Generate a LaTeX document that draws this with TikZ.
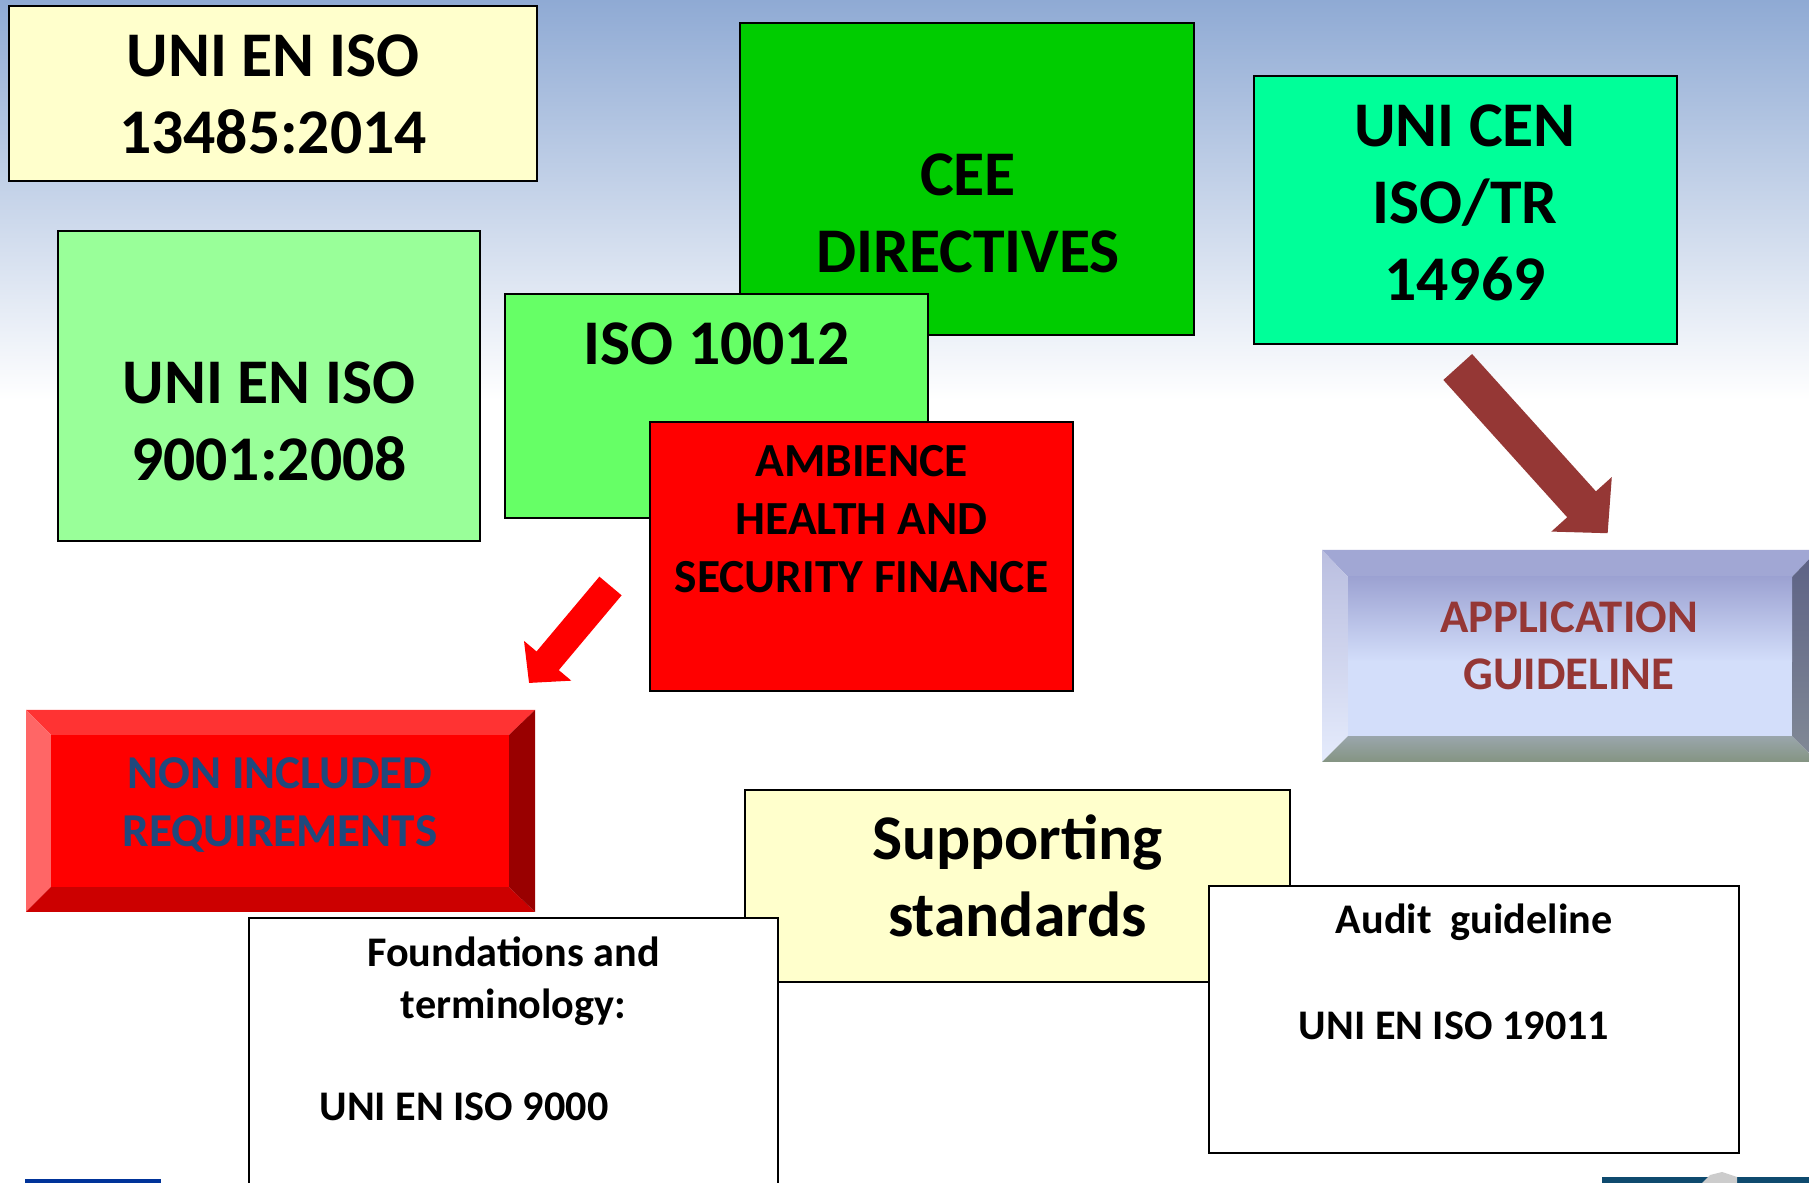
\documentclass[tikz,border=0pt]{standalone}
\usepackage{fontspec}
\setmainfont{Carlito}
\usetikzlibrary{arrows.meta,fit}

\definecolor{bgtop}{RGB}{143,170,212}
\definecolor{paleyellow}{RGB}{255,255,204}
\definecolor{ceegreen}{RGB}{0,204,0}
\definecolor{aquagreen}{RGB}{0,255,153}
\definecolor{palegreen}{RGB}{153,255,153}
\definecolor{lightgreen}{RGB}{102,255,102}
\definecolor{darkbrown}{RGB}{149,55,53}
\definecolor{textblue}{RGB}{31,73,125}
\definecolor{barblue}{RGB}{0,51,153}
\definecolor{barteal}{RGB}{14,74,110}
% bevel faces
\definecolor{redtop}{RGB}{255,51,51}
\definecolor{redleft}{RGB}{255,102,102}
\definecolor{redbottom}{RGB}{204,0,0}
\definecolor{redright}{RGB}{153,0,0}
\definecolor{lilactop}{RGB}{156,162,210}
\definecolor{lilacface}{RGB}{211,222,250}

\begin{document}
\begin{tikzpicture}[x=0.01cm, y=-0.01cm,
    box/.style={draw=black, line width=0.6pt, inner sep=0pt},
    big/.style={font=\fontsize{18.1}{21.9}\selectfont\bfseries, align=center, inner sep=0pt},
    mid/.style={font=\fontsize{13.5}{16.4}\selectfont\bfseries, align=center, inner sep=0pt},
    small/.style={font=\fontsize{12}{14.8}\selectfont\bfseries, align=center, inner sep=0pt},
    redarrow/.style={red, line width=8.25pt, -{Triangle[width=17.1pt, length=8.25pt]}},
    brownarrow/.style={darkbrown, line width=11pt, -{Triangle[width=22.5pt, length=11.1pt]}}]
    \useasboundingbox (0,0) rectangle (1809,1183);

    % Background
    \fill[white] (0,0) rectangle (1809,1183);
    \shade[top color=bgtop, bottom color=white] (0,0) rectangle (1809,400);

    % Standards boxes
    \node[box, fill=paleyellow, fit={(9,6) (537,181)}] (iso13485) {};
    \node[big] (iso13485txt) at (273,94) {UNI EN ISO\\13485:2014};

    \node[box, fill=ceegreen, fit={(740,23) (1194,335)}] (cee) {};
    \node[big] (ceetxt) at (968,213) {CEE\\DIRECTIVES};

    \node[box, fill=aquagreen, fit={(1254,76) (1677,344)}] (tr14969) {};
    \node[big] (tr14969txt) at (1465,203) {UNI CEN\\ISO/TR\\14969};

    \node[box, fill=palegreen, fit={(58,231) (480,541)}] (iso9001) {};
    \node[big] (iso9001txt) at (269,421) {UNI EN ISO\\9001:2008};

    \node[box, fill=lightgreen, fit={(505,294) (928,518)}] (iso10012) {};
    \node[big] (iso10012txt) at (716.5,344) {ISO 10012};

    \node[box, fill=red, fit={(650,422) (1073,691)}] (ambience) {};
    \node[mid] (ambiencetxt) at (861.5,519) {AMBIENCE\\HEALTH AND\\SECURITY FINANCE};

    % Bevelled button: non included requirements
    \fill[redtop] (26,710) -- (535,710) -- (509,735) -- (51,735) -- cycle;
    \fill[redleft] (26,710) -- (51,735) -- (51,887) -- (26,912) -- cycle;
    \fill[redbottom] (26,912) -- (51,887) -- (509,887) -- (535,912) -- cycle;
    \fill[redright] (535,710) -- (535,912) -- (509,887) -- (509,735) -- cycle;
    \fill[red] (51,735) rectangle (509,887);
    \node[inner sep=0pt, fit={(26,710) (535,912)}] (nonincl) {};
    \node[mid, textblue, font=\fontsize{13.4}{16.5}\selectfont\bfseries] (noninctxt) at (280,805) {NON INCLUDED\\REQUIREMENTS};

    % Bevelled button: application guideline
    \fill[lilactop!95!white] (1322,550) -- (1818,550) -- (1792,577) -- (1348,577) -- cycle;
    \shade[top color=lilactop!70!white, bottom color=lilacface!60!white] (1322,550) -- (1348,577) -- (1348,736) -- (1322,762) -- cycle;
    \shade[top color={rgb,255:red,154;green,166;blue,172}, bottom color={rgb,255:red,132;green,148;blue,130}] (1322,762) -- (1348,736) -- (1792,736) -- (1818,762) -- cycle;
    \shade[top color={rgb,255:red,92;green,97;blue,133}, bottom color={rgb,255:red,130;green,138;blue,150}] (1818,550) -- (1818,762) -- (1792,736) -- (1792,577) -- cycle;
    \shade[top color=lilactop, bottom color=lilacface] (1348,577) rectangle (1792,662);
    \fill[lilacface] (1348,661) rectangle (1792,736);
    \node[inner sep=0pt, fit={(1322,550) (1818,762)}] (appguide) {};
    \node[mid, darkbrown, font=\fontsize{13.3}{16.2}\selectfont\bfseries] (appguidetxt) at (1569,646) {APPLICATION\\GUIDELINE};

    % Supporting standards and the two white boxes over it
    \node[box, fill=paleyellow, fit={(745,790) (1290,982)}] (support) {};
    \node[big] (supporttxt) at (1017.5,876) {Supporting\\standards};

    \node[box, fill=white, fit={(249,918) (778,1200)}] (iso9000) {};
    \node[small] (iso9000txt) at (513.5,1029) {Foundations and\\terminology:\\[14.2pt]UNI EN ISO 9000\hspace*{0.99cm}};

    \node[box, fill=white, fit={(1209,886) (1739,1153)}] (iso19011) {};
    \node[small] (iso19011txt) at (1474,972) {Audit~~guideline\\[15.2pt]UNI EN ISO 19011\hspace*{0.4cm}};

    % Block arrows
    \coordinate (redtail) at (610.5,586);
    \coordinate (redtip) at (529,683);
    \draw[redarrow] (redtail) -- (redtip);

    \coordinate (browntail) at (1457.7,367);
    \coordinate (browntip) at (1607.7,533.3);
    \draw[brownarrow] (browntail) -- (browntip);

    % Footer bars
    \fill[barblue] (25,1179) rectangle (161,1183);
    \fill[barteal] (1602,1177) rectangle (1809,1183);
    \fill[black!20] (1702,1183) -- (1710,1175) -- (1722,1172) -- (1737,1177) -- (1737,1183) -- cycle;
\end{tikzpicture}
\end{document}
